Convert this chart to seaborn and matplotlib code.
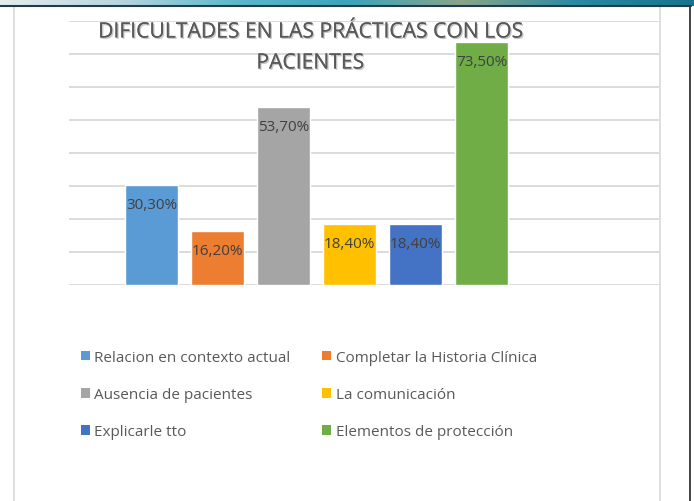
import numpy as np
import matplotlib
matplotlib.use("Agg")
import matplotlib.pyplot as plt
import matplotlib.patheffects as pe
from matplotlib.patches import Patch
from matplotlib.lines import Line2D
from matplotlib.colors import LinearSegmentedColormap
import pandas as pd
import seaborn as sns

# datos
categorias = ["Relacion en contexto actual", "Completar la Historia Clínica",
              "Ausencia de pacientes", "La comunicación",
              "Explicarle tto", "Elementos de protección"]
porcentajes = [30.3, 16.2, 53.7, 18.4, 18.4, 73.5]
colores = ["#5B9BD5", "#ED7D31", "#A5A5A5", "#FFC000", "#4472C4", "#70AD47"]
titulo = ["DIFICULTADES EN LAS PRÁCTICAS CON LOS", "PACIENTES"]

df = pd.DataFrame({"categoria": categorias, "valor": porcentajes})

sns.set_style("white")
plt.rcParams["font.family"] = ["Open Sans", "DejaVu Sans"]

W, H = 694, 502
fig = plt.figure(figsize=(W / 100, H / 100), dpi=100)
ax = fig.add_axes([69 / W, 1 - 286 / H, (659 - 69) / W, (286 - 21.5) / H])

sns.barplot(data=df, x="categoria", y="valor", hue="categoria",
            palette=colores, saturation=1, width=0.79, legend=False, ax=ax,
            order=categorias, hue_order=categorias)

ax.set_ylim(0, 80)
ax.set_xlim(-1.25, 7.69)
ax.set_yticks(np.arange(0, 81, 10))
ax.yaxis.grid(True, color="#D9D9D9", linewidth=1.3)
ax.set_axisbelow(True)
ax.tick_params(left=False, bottom=False, labelleft=False, labelbottom=False)
ax.set_xlabel("")
ax.set_ylabel("")
for s in ax.spines.values():
    s.set_visible(False)

# etiquetas de datos
for cont, v in zip(ax.containers, porcentajes):
    bar = cont.patches[0]
    txt = f"{v:.2f}".replace(".", ",") + "%"
    ax.annotate(txt, (bar.get_x() + bar.get_width() / 2, bar.get_height()),
                xytext=(0, -14), textcoords="offset points",
                ha="center", va="center", fontsize=11, color="#404040")

# titulo (dos lineas)
sombra = [pe.withSimplePatchShadow(offset=(1, -1), alpha=0.25), pe.Normal()]
for linea, yc in zip(titulo, [33, 64]):
    fig.text(310 / W, 1 - yc / H, linea, ha="center", va="center",
             fontsize=15.2, color="#595959", path_effects=sombra)

# leyenda
handles = [Patch(facecolor=c, edgecolor="none") for c in colores]
orden = [0, 2, 4, 1, 3, 5]
fig.legend([handles[i] for i in orden], [categorias[i] for i in orden],
           ncol=2, loc="upper left", bbox_to_anchor=(67 / W, 1 - 337 / H),
           frameon=False, fontsize=11, handlelength=0.6, handleheight=0.6,
           handletextpad=0.3, labelspacing=1.46, columnspacing=2.05,
           labelcolor="#595959")

# marco
fig.add_artist(Line2D([14 / W] * 2, [0, 1 - 8 / H], transform=fig.transFigure,
                      color="#D9D9D9", linewidth=1.2))
fig.add_artist(Line2D([660 / W] * 2, [0, 1 - 8 / H], transform=fig.transFigure,
                      color="#D9D9D9", linewidth=1.2))
fig.add_artist(Line2D([690 / W] * 2, [0, 1 - 7 / H], transform=fig.transFigure,
                      color="#222222", linewidth=1.2))
fig.add_artist(Line2D([0, 691 / W], [1 - 7 / H] * 2, transform=fig.transFigure,
                      color="#1f3b4d", linewidth=1.5))

banda = fig.add_axes([0, 1 - 6.5 / H, 1, 6.5 / H])
cmap = LinearSegmentedColormap.from_list(
    "banda", ["#e4ecef", "#b9d6de", "#5fb9cc", "#3aa4bb", "#8aa58a", "#2a8aa3", "#17748c"])
banda.imshow(np.linspace(0, 1, 300)[None, :], aspect="auto", cmap=cmap)
banda.axis("off")

fig.savefig("out.png", dpi=100)
